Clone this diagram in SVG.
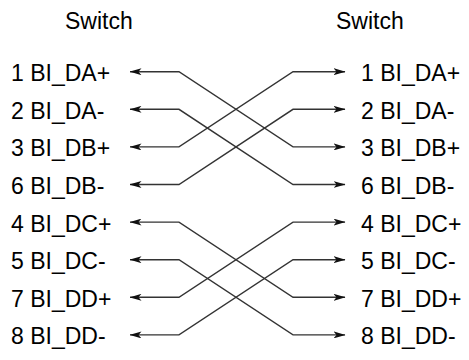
<svg xmlns="http://www.w3.org/2000/svg" width="469" height="360" viewBox="0 0 469 360">
<style>
text{font-family:"Liberation Sans",Arial,sans-serif;font-size:23px;fill:#000}
.c{fill:none;stroke:#333;stroke-width:1.4}
.l{marker-start:url(#ah)}
.r{marker-end:url(#ah)}
</style>
<defs>
<marker id="ah" markerUnits="userSpaceOnUse" viewBox="0 0 12 7" refX="11.5" refY="3.5" markerWidth="12" markerHeight="7" orient="auto-start-reverse">
<path d="M0,0 L12,3.5 L0,7 L3,3.5 Z" fill="#111"/>
</marker>
</defs>
<rect width="469" height="360" fill="#fff"/>
<g id="switch-left">
<text x="65" y="29">Switch</text>
<text x="11" y="81.2">1 BI_DA+</text>
<text x="11" y="118.8">2 BI_DA-</text>
<text x="11" y="156.4">3 BI_DB+</text>
<text x="11" y="194">6 BI_DB-</text>
<text x="11" y="231.6">4 BI_DC+</text>
<text x="11" y="269.2">5 BI_DC-</text>
<text x="11" y="306.8">7 BI_DD+</text>
<text x="11" y="344.4">8 BI_DD-</text>
</g>
<g id="switch-right">
<text x="336" y="29">Switch</text>
<text x="361" y="81.2">1 BI_DA+</text>
<text x="361" y="118.8">2 BI_DA-</text>
<text x="361" y="156.4">3 BI_DB+</text>
<text x="361" y="194">6 BI_DB-</text>
<text x="361" y="231.6">4 BI_DC+</text>
<text x="361" y="269.2">5 BI_DC-</text>
<text x="361" y="306.8">7 BI_DD+</text>
<text x="361" y="344.4">8 BI_DD-</text>
</g>
<g id="connectors">
<path class="c l r" d="M130,71.7 H179 L293,146.9 H345"/>
<path class="c l r" d="M130,109.3 H179 L293,184.5 H345"/>
<path class="c l r" d="M130,146.9 H179 L293,71.7 H345"/>
<path class="c l r" d="M130,184.5 H179 L293,109.3 H345"/>
<path class="c l r" d="M130,222.1 H179 L293,297.3 H345"/>
<path class="c l r" d="M130,259.7 H179 L293,334.9 H345"/>
<path class="c l r" d="M130,297.3 H179 L293,222.1 H345"/>
<path class="c l r" d="M130,334.9 H179 L293,259.7 H345"/>
</g>
</svg>
